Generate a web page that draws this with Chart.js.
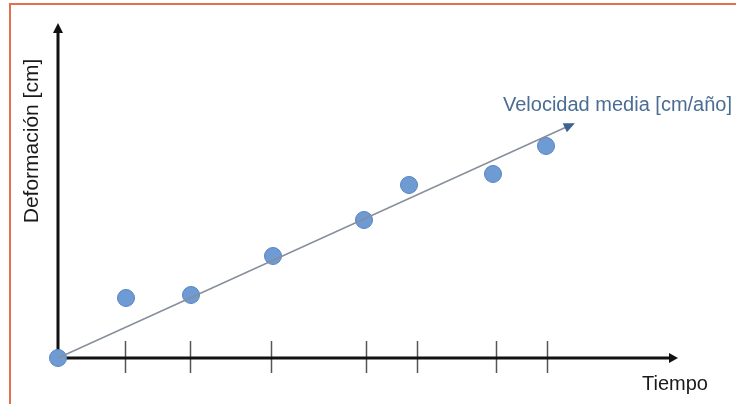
<!DOCTYPE html>
<html>
<head>
    <meta charset="utf-8">
    <title> Deformación vs Tiempo </title>
    <script src="https://cdn.jsdelivr.net/npm/chart.js@4.4.3/dist/chart.umd.js"></script>
</head>

<body>
    <div id="frame"></div>
    <canvas id="velChart" width="736" height="404"></canvas>

    <script>
        // data (1 unit = ~10 px)
        const tiempo = [0, 6.8, 13.3, 21.5, 30.6, 35.1, 43.5, 48.8];
        const deformacion = [0, 6.0, 6.3, 10.2, 13.8, 17.3, 18.4, 21.2];
        const marcasTiempo = [6.7, 13.2, 21.3, 30.8, 35.9, 43.8, 48.9];
        const tendenciaX = [0, 51.5];
        const tendenciaY = [0, 23.4];

        const xLabel = "Tiempo";
        const yLabel = "Deformación [cm]";
        const lineLabel = "Velocidad media [cm/año]";

        const font = '"Liberation Sans", Arial, sans-serif';

        const axesPlugin = {
            id: 'axes',
            beforeDatasetsDraw(chart) {
                const ctx = chart.ctx;
                const a = chart.chartArea;
                const xs = chart.scales.x;
                ctx.save();
                // tick marks
                ctx.strokeStyle = '#555';
                ctx.lineWidth = 1.5;
                marcasTiempo.forEach(v => {
                    const px = Math.round(xs.getPixelForValue(v)) + 0.5;
                    ctx.beginPath();
                    ctx.moveTo(px, a.bottom - 17);
                    ctx.lineTo(px, a.bottom + 15);
                    ctx.stroke();
                });
                // axis lines
                ctx.strokeStyle = '#111';
                ctx.fillStyle = '#111';
                ctx.lineWidth = 3;
                ctx.beginPath();
                ctx.moveTo(a.left, a.bottom);
                ctx.lineTo(a.right - 6, a.bottom);
                ctx.moveTo(a.left, a.bottom);
                ctx.lineTo(a.left, a.top + 6);
                ctx.stroke();
                // arrow heads
                ctx.beginPath();
                ctx.moveTo(a.right, a.bottom);
                ctx.lineTo(a.right - 9, a.bottom - 5);
                ctx.lineTo(a.right - 9, a.bottom + 5);
                ctx.closePath();
                ctx.fill();
                ctx.beginPath();
                ctx.moveTo(a.left, a.top - 2);
                ctx.lineTo(a.left - 5, a.top + 8);
                ctx.lineTo(a.left + 5, a.top + 8);
                ctx.closePath();
                ctx.fill();
                // axis titles
                ctx.fillStyle = '#1a1a1a';
                ctx.font = '20px ' + font;
                ctx.textAlign = 'left';
                ctx.textBaseline = 'alphabetic';
                ctx.fillText(xLabel, 642, 390);
                ctx.font = '21px ' + font;
                ctx.translate(38, 141);
                ctx.rotate(-Math.PI / 2);
                ctx.textAlign = 'center';
                ctx.fillText(yLabel, 0, 0);
                ctx.restore();
            },
            afterDatasetsDraw(chart) {
                const ctx = chart.ctx;
                const pts = chart.getDatasetMeta(1).data;
                const p0 = pts[0], p1 = pts[pts.length - 1];
                const ang = Math.atan2(p1.y - p0.y, p1.x - p0.x);
                ctx.save();
                ctx.translate(p1.x, p1.y);
                ctx.rotate(ang);
                ctx.fillStyle = '#3d6390';
                ctx.beginPath();
                ctx.moveTo(2, 0);
                ctx.lineTo(-9, -5);
                ctx.lineTo(-9, 5);
                ctx.closePath();
                ctx.fill();
                ctx.restore();
                ctx.save();
                ctx.fillStyle = '#4a6d93';
                ctx.font = '20px ' + font;
                ctx.textAlign = 'left';
                ctx.fillText(lineLabel, 503, 111);
                ctx.restore();
            }
        };

        new Chart(document.getElementById('velChart'), {
            type: 'scatter',
            data: {
                datasets: [{
                    label: 'Medidas',
                    data: tiempo.map((t, i) => ({ x: t, y: deformacion[i] })),
                    backgroundColor: 'rgb(110, 155, 212)',
                    borderColor: 'rgb(88, 132, 192)',
                    borderWidth: 1,
                    pointRadius: 8.5,
                    order: 1,
                    clip: false
                }, {
                    label: lineLabel,
                    data: tendenciaX.map((t, i) => ({ x: t, y: tendenciaY[i] })),
                    showLine: true,
                    borderColor: 'rgb(135, 142, 155)',
                    borderWidth: 1.4,
                    pointRadius: 0,
                    order: 0,
                    clip: false
                }]
            },
            options: {
                responsive: false,
                animation: false,
                layout: { padding: { left: 58, right: 58, top: 25, bottom: 46 } },
                plugins: { legend: { display: false }, tooltip: { enabled: false } },
                scales: {
                    x: { type: 'linear', min: 0, max: 62, display: false },
                    y: { type: 'linear', min: 0, max: 33.3, display: false }
                }
            },
            plugins: [axesPlugin]
        });
    </script>
</body>

<style>
    html, body {
        margin: 0;
        padding: 0;
        background: #fff;
        overflow: hidden;
    }

    canvas {
        position: absolute;
        left: 0;
        top: 0;
    }

    #frame {
        position: absolute;
        left: 9px;
        top: 3px;
        width: 740px;
        height: 420px;
        border-top: 2px solid #e0704f;
        border-left: 2px solid #e0704f;
        pointer-events: none;
        z-index: 2;
    }
</style>
</html>
